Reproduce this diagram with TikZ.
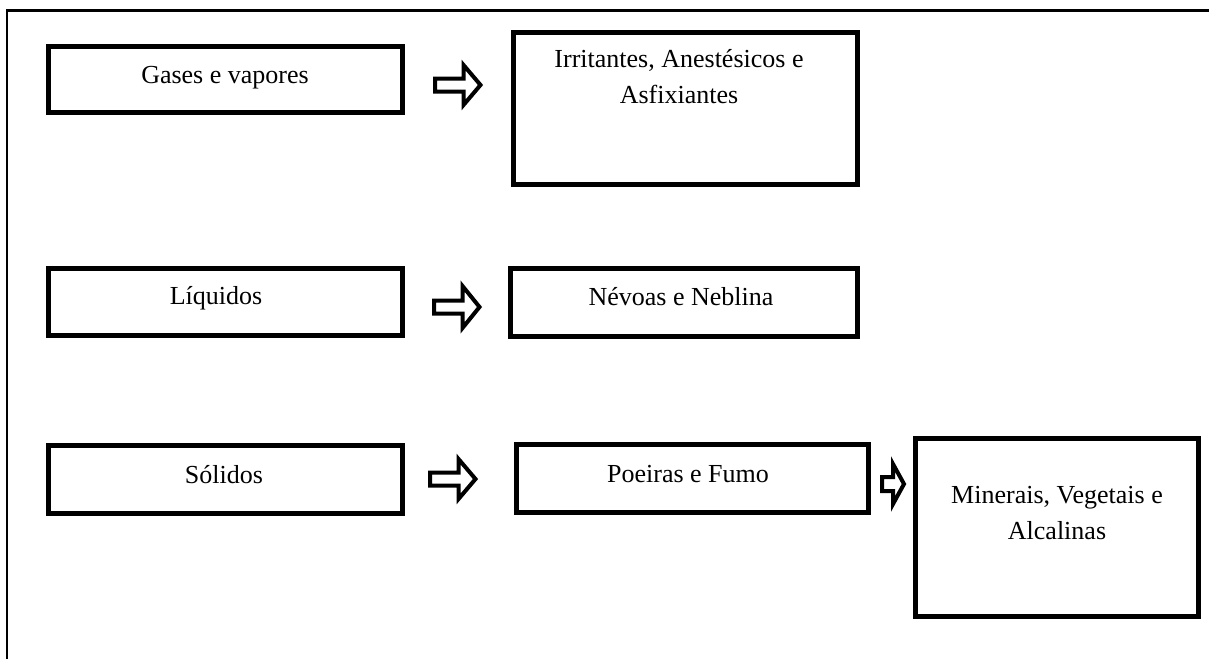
\documentclass[tikz,border=0pt]{standalone}
\usepackage{fontspec}
\setmainfont{Liberation Serif}
\begin{document}
\begin{tikzpicture}[x=1pt,y=-1pt,
  box/.style={draw=black, line width=5pt, rectangle, inner sep=0pt, outer sep=0pt},
  txt/.style={inner sep=0pt, outer sep=0pt, font=\fontsize{26}{36}\selectfont},
  blockarrow/.style={draw=black, fill=white, line width=4pt, line join=miter},
  frameline/.style={draw=black, line width=2.5pt}]
\useasboundingbox (0,0) rectangle (1209,659);

% outer frame (left and top edges)
\draw[frameline] (7,659) -- (7,10.3) -- (1209,10.3);

% arrow outline: tail point, head base offset, tip offset, shaft half height, head half height
\newcommand{\drawblockarrow}[5]{%
  \draw[blockarrow] (#1) ++(0,-#4) -- ++(#2,0) -- ++(0,{-(#5-#4)})
    -- ++({#3-#2},#5) -- ++({-(#3-#2)},#5) -- ++(0,{-(#5-#4)})
    -- ++(-#2,0) -- cycle;}

% boxes
\node[box, minimum width=354, minimum height=66]  (gases)    at (225,79)    {};
\node[box, minimum width=344, minimum height=152] (irrit)    at (685,108)   {};
\node[box, minimum width=354, minimum height=67]  (liquidos) at (225,301.5) {};
\node[box, minimum width=347, minimum height=68]  (nevoas)   at (683.5,302) {};
\node[box, minimum width=354, minimum height=68]  (solidos)  at (225,479)   {};
\node[box, minimum width=352, minimum height=68]  (poeiras)  at (692,478)   {};
\node[box, minimum width=283, minimum height=178] (minerais) at (1056.5,527) {};

% texts
\node[txt, anchor=base] (tgases) at (225,83) {Gases e vapores};
\node[txt, anchor=base] (tirrit) at (679,67)
  {\begin{tabular}[t]{@{}c@{}}Irritantes, Anestésicos e\\Asfixiantes\end{tabular}};
\node[txt, anchor=base] (tliq) at (216,304) {Líquidos};
\node[txt, anchor=base] (tnev) at (681,305) {Névoas e Neblina};
\node[txt, anchor=base] (tsol) at (224,483) {Sólidos};
\node[txt, anchor=base] (tpoe) at (688,482) {Poeiras e Fumo};
\node[txt, anchor=base] (tmin) at (1057,503)
  {\begin{tabular}[t]{@{}c@{}}Minerais, Vegetais e\\Alcalinas\end{tabular}};

% block arrows between boxes
\coordinate (a1) at (435,85);
\coordinate (a2) at (434,307);
\coordinate (a3) at (430,479);
\coordinate (a4) at (882,484);
\drawblockarrow{a1}{28.5}{45.5}{6.5}{20}
\drawblockarrow{a2}{28.5}{45.5}{6.5}{21}
\drawblockarrow{a3}{28.5}{45.5}{6.5}{20}
\drawblockarrow{a4}{11}{22}{7}{20}
\end{tikzpicture}
\end{document}
